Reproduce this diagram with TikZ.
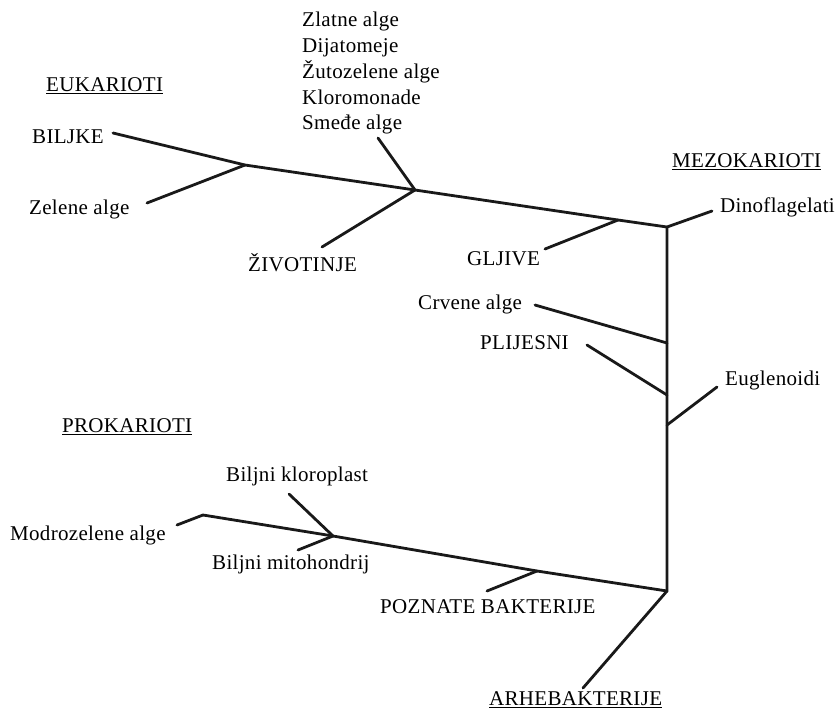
\documentclass[tikz,border=0pt]{standalone}
\usepackage{fontspec}
\setmainfont[LetterSpace=1.5]{Liberation Serif}
\begin{document}
\begin{tikzpicture}[x=1pt,y=-1pt,
  branch/.style={line width=2.8pt, line cap=round, line join=round, draw=black!90},
  lbl/.style={font=\fontsize{21}{25.75}\selectfont, inner sep=0pt, anchor=west, text=black}]
\useasboundingbox (0,0) rectangle (837,713);
% labels
\node[lbl] (euk) at (46,86) {\underline{EUKARIOTI}};
\node[lbl] (bil) at (32,137) {BILJKE};
\node[lbl] (zel) at (29,209) {Zelene alge};
\node[lbl] (ziv) at (248,263) {ŽIVOTINJE};
\node[lbl, anchor=north west, align=left] (grp) at (302,12) {Zlatne alge\\Dijatomeje\\Žutozelene alge\\Kloromonade\\Smeđe alge};
\node[lbl] (mez) at (672,162) {\underline{MEZOKARIOTI}};
\node[lbl] (din) at (720,207) {Dinoflagelati};
\node[lbl] (glj) at (467,259) {GLJIVE};
\node[lbl] (crv) at (418,304) {Crvene alge};
\node[lbl] (pli) at (480,343) {PLIJESNI};
\node[lbl] (eug) at (725,380) {Euglenoidi};
\node[lbl] (pro) at (62,427) {\underline{PROKARIOTI}};
\node[lbl] (klo) at (226,476) {Biljni kloroplast};
\node[lbl] (mod) at (10,535) {Modrozelene alge};
\node[lbl] (mit) at (212,564) {Biljni mitohondrij};
\node[lbl] (poz) at (380,607) {POZNATE BAKTERIJE};
\node[lbl] (arh) at (489,700) {\underline{ARHEBAKTERIJE}};
% coordinates
\coordinate (J1) at (245,165);
\coordinate (J2) at (415,190);
\coordinate (J3) at (618,220);
\coordinate (C1) at (667,227);
\coordinate (C2) at (667,591);
\coordinate (b1) at (113,133);
\coordinate (z1) at (147,203);
\coordinate (s1) at (378,138);
\coordinate (v1) at (322,247);
\coordinate (g1) at (545,249);
\coordinate (d1) at (712,211);
\coordinate (cr1) at (535,305);
\coordinate (cr2) at (667,343);
\coordinate (p1) at (587,345);
\coordinate (p2) at (667,395);
\coordinate (e1) at (667,425);
\coordinate (e2) at (717,387);
\coordinate (m1) at (177,525);
\coordinate (mk) at (203,515);
\coordinate (J4) at (333,536);
\coordinate (k1) at (289,494);
\coordinate (mi1) at (298,550);
\coordinate (J5) at (537,571);
\coordinate (pb1) at (487,591);
\coordinate (a1) at (583,688);
% branches
\draw[branch] (b1) -- (J1) -- (J2) -- (J3) -- (C1) -- (C2) -- (J5) -- (J4) -- (mk) -- (m1);
\draw[branch] (z1) -- (J1);
\draw[branch] (s1) -- (J2) -- (v1);
\draw[branch] (g1) -- (J3);
\draw[branch] (C1) -- (d1);
\draw[branch] (cr1) -- (cr2);
\draw[branch] (p1) -- (p2);
\draw[branch] (e1) -- (e2);
\draw[branch] (k1) -- (J4) -- (mi1);
\draw[branch] (pb1) -- (J5);
\draw[branch] (C2) -- (a1);
\end{tikzpicture}
\end{document}
